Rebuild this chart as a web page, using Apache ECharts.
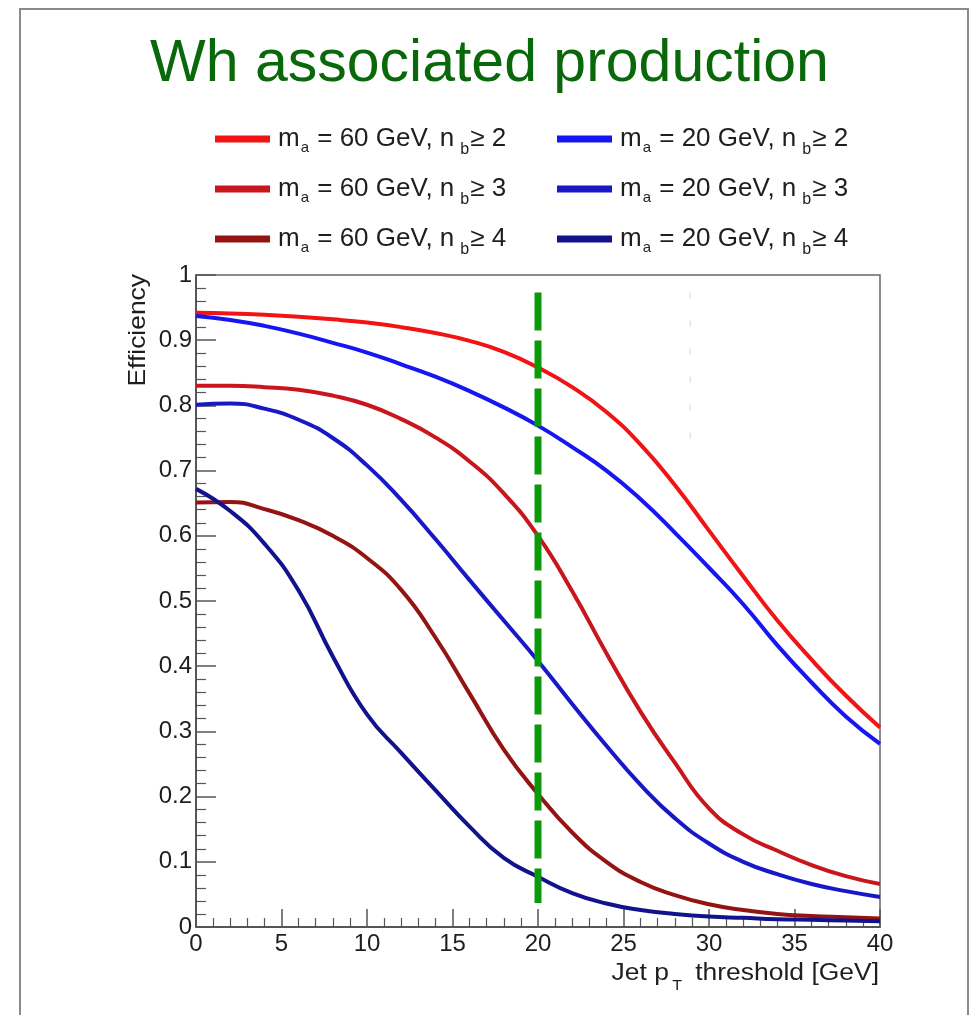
<!DOCTYPE html>
<html>
<head>
<meta charset="utf-8">
<title>Wh associated production</title>
<script src="https://cdn.jsdelivr.net/npm/echarts@6/dist/echarts.min.js"></script>
<style>
  html, body { margin: 0; padding: 0; background: #fff; }
  #chart { width: 971px; height: 1015px; }
</style>
</head>
<body>
<div id="chart"></div>
<script>
/*
 * values, jet pT threshold in GeV
 */
var ptValues = [0, 2, 4, 6, 8, 10, 12, 14, 16, 18, 20, 22, 24, 26, 28, 30, 32, 34, 36, 38, 40];

var ma60nb2 = [0.942, 0.941, 0.939, 0.936, 0.932, 0.927, 0.920, 0.911, 0.899, 0.882, 0.858, 0.828, 0.790, 0.740, 0.678, 0.608, 0.538, 0.470, 0.410, 0.355, 0.306];
var ma60nb3 = [0.830, 0.830, 0.828, 0.824, 0.815, 0.801, 0.779, 0.751, 0.714, 0.665, 0.600, 0.515, 0.420, 0.330, 0.252, 0.182, 0.142, 0.117, 0.095, 0.078, 0.066];
var ma60nb4 = [0.651, 0.652, 0.641, 0.624, 0.600, 0.566, 0.517, 0.444, 0.358, 0.272, 0.204, 0.145, 0.100, 0.069, 0.049, 0.035, 0.026, 0.020, 0.017, 0.015, 0.013];
var ma20nb2 = [0.937, 0.931, 0.922, 0.910, 0.896, 0.881, 0.863, 0.844, 0.822, 0.797, 0.769, 0.736, 0.700, 0.656, 0.605, 0.551, 0.495, 0.432, 0.375, 0.323, 0.281];
var ma20nb3 = [0.801, 0.803, 0.795, 0.778, 0.750, 0.708, 0.655, 0.595, 0.532, 0.470, 0.408, 0.342, 0.278, 0.218, 0.167, 0.128, 0.100, 0.081, 0.066, 0.055, 0.046];
var ma20nb4 = [0.672, 0.638, 0.588, 0.516, 0.415, 0.326, 0.267, 0.210, 0.154, 0.106, 0.077, 0.052, 0.036, 0.026, 0.020, 0.016, 0.014, 0.012, 0.011, 0.010, 0.009];

var seriesMass = ['60', '60', '60', '20', '20', '20'];
var seriesNb = ['2', '3', '4', '2', '3', '4'];
var seriesColors = ['#f21414', '#c9161c', '#941414', '#1616f2', '#1818c6', '#12128c'];
var seriesValues = [ma60nb2, ma60nb3, ma60nb4, ma20nb2, ma20nb3, ma20nb4];

/* the green cut line and the faint dotted line in the top right */
var cutLine = [[20, 0.973], [20, 0.037]];
var faintLine = [[28.9, 0.973], [28.9, 0.731]];

var xTicks = [0, 5, 10, 15, 20, 25, 30, 35, 40];
var yTicks = [0, 0.1, 0.2, 0.3, 0.4, 0.5, 0.6, 0.7, 0.8, 0.9, 1];

var FONT = 'Liberation Sans';

function seriesName(i) {
    return 'ma' + seriesMass[i] + '_nb' + seriesNb[i];
}

function legendLabel(name) {
    var i = 0;
    for (var k = 0; k < seriesMass.length; k++) {
        if (seriesName(k) === name) i = k;
    }
    return '{t|m}{a|a}{t| = ' + seriesMass[i] + ' GeV, n}{b|b}{t|\u2265 ' + seriesNb[i] + '}';
}

var legendRich = {
    t: { fontFamily: FONT, fontSize: 26, lineHeight: 26, color: '#1e1e1e', verticalAlign: 'top' },
    a: { fontFamily: FONT, fontSize: 15, lineHeight: 15, color: '#1e1e1e', verticalAlign: 'top', padding: [14, 1, 0, 1] },
    b: { fontFamily: FONT, fontSize: 16, lineHeight: 16, color: '#1e1e1e', verticalAlign: 'top', padding: [16, 1, 0, 6] }
};

function makeLegend(names, left) {
    return {
        data: names,
        left: left,
        top: 126,
        padding: 0,
        orient: 'vertical',
        itemGap: 18,
        itemWidth: 55,
        itemHeight: 7,
        icon: 'rect',
        selectedMode: false,
        formatter: legendLabel,
        textStyle: { rich: legendRich, padding: [0, 0, 0, 3] }
    };
}

var series = [];
for (var i = 0; i < seriesValues.length; i++) {
    var pts = [];
    for (var j = 0; j < ptValues.length; j++) {
        pts.push([ptValues[j], seriesValues[i][j]]);
    }
    series.push({
        name: seriesName(i),
        type: 'line',
        data: pts,
        smooth: 0.5,
        showSymbol: false,
        color: seriesColors[i],
        lineStyle: { color: seriesColors[i], width: 4 },
        z: 3
    });
}
series.push({
    type: 'line',
    data: faintLine,
    showSymbol: false,
    silent: true,
    lineStyle: { color: '#e4e4e4', width: 1.5, type: [6, 22] },
    z: 2
});
series.push({
    type: 'line',
    data: cutLine,
    showSymbol: false,
    silent: true,
    lineStyle: { color: '#0a9a0a', width: 7, type: [38, 10], cap: 'butt' },
    z: 5
});

var chart = echarts.init(document.getElementById('chart'), null, { renderer: 'canvas' });

var option = {
    animation: false,
    backgroundColor: '#ffffff',
    textStyle: { fontFamily: FONT },
    title: {
        text: 'Wh associated production',
        left: 150,
        top: 35,
        padding: 0,
        textStyle: { fontFamily: FONT, fontSize: 59, fontWeight: 'normal', color: '#096809' }
    },
    legend: [
        makeLegend([seriesName(0), seriesName(1), seriesName(2)], 215),
        makeLegend([seriesName(3), seriesName(4), seriesName(5)], 557)
    ],
    grid: {
        left: 196,
        right: 91,
        top: 275,
        bottom: 88,
        show: true,
        borderColor: '#666',
        borderWidth: 1.5,
        backgroundColor: 'transparent'
    },
    xAxis: {
        type: 'value',
        min: xTicks[0],
        max: xTicks[xTicks.length - 1],
        interval: 5,
        axisLine: { show: true, onZero: false, lineStyle: { color: '#444', width: 1.5 } },
        axisTick: { show: true, inside: true, length: 18, lineStyle: { color: '#555', width: 1.5 } },
        minorTick: { show: true, splitNumber: 5, length: 9, lineStyle: { color: '#555', width: 1.2 } },
        splitLine: { show: false },
        axisLabel: { fontFamily: FONT, fontSize: 24, color: '#1e1e1e', margin: 5 }
    },
    yAxis: {
        type: 'value',
        min: yTicks[0],
        max: yTicks[yTicks.length - 1],
        interval: 0.1,
        axisLine: { show: true, lineStyle: { color: '#444', width: 1.5 } },
        axisTick: { show: true, inside: true, length: 20, lineStyle: { color: '#555', width: 1.5 } },
        minorTick: { show: true, splitNumber: 5, length: 10, lineStyle: { color: '#555', width: 1.2 } },
        splitLine: { show: false },
        axisLabel: {
            fontFamily: FONT, fontSize: 24, color: '#1e1e1e', margin: 4,
            formatter: function (v) {
                if (Math.abs(v) < 1e-9) return '0';
                if (Math.abs(v - 1) < 1e-9) return '1';
                return v.toFixed(1);
            }
        }
    },
    graphic: [
        {
            type: 'rect',
            silent: true,
            shape: { x: 20, y: 9, width: 948, height: 1020 },
            style: { fill: 'none', stroke: '#8a8a8a', lineWidth: 2 }
        },
        {
            type: 'text',
            x: 138,
            y: 274,
            rotation: Math.PI / 2,
            scaleX: 1.1,
            style: {
                text: 'Efficiency',
                font: '24px "' + FONT + '"',
                fill: '#1e1e1e',
                align: 'right',
                verticalAlign: 'middle'
            }
        },
        {
            type: 'text',
            x: 879,
            y: 962,
            scaleX: 1.15,
            style: {
                text: '{t|Jet p}{s|T}{t| threshold [GeV]}',
                align: 'right',
                rich: {
                    t: { fontFamily: FONT, fontSize: 23, lineHeight: 23, fill: '#1e1e1e', verticalAlign: 'top' },
                    s: { fontFamily: FONT, fontSize: 14, lineHeight: 14, fill: '#1e1e1e', verticalAlign: 'top', padding: [17, 5, 0, 3] }
                }
            }
        }
    ],
    series: series
};

chart.setOption(option);
</script>
</body>
</html>
